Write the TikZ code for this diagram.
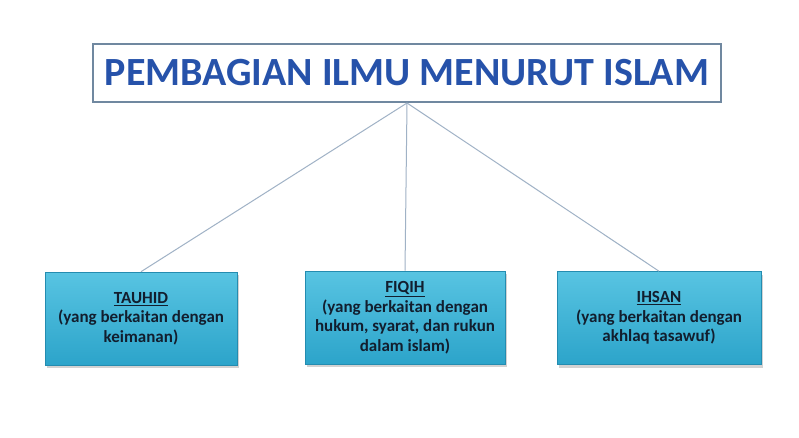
\documentclass[tikz,border=0pt]{standalone}
\usepackage{fontspec}
\setmainfont{Carlito}
\usetikzlibrary{shadows}
\definecolor{birujudul}{RGB}{38,82,170}
\definecolor{garisjudul}{RGB}{112,136,160}
\definecolor{kotakatas}{RGB}{88,196,226}
\definecolor{kotakbawah}{RGB}{44,164,202}
\definecolor{kotaktepi}{RGB}{36,140,176}
\definecolor{teksgelap}{RGB}{18,30,46}
\definecolor{garishub}{RGB}{160,178,198}
\begin{document}
\begin{tikzpicture}[x=1pt,y=-1pt,
  judulbox/.style={draw=garisjudul, line width=2pt, fill=white, minimum width=628pt,
    minimum height=58pt, inner sep=0pt, font=\fontsize{40}{46}\selectfont\bfseries, text=birujudul},
  kotak/.style={draw=kotaktepi, line width=0.6pt, top color=kotakatas, bottom color=kotakbawah,
    minimum height=93pt, inner sep=2pt, align=center, text=teksgelap,
    font=\fontsize{17}{19.5}\selectfont\bfseries,
    drop shadow={shadow xshift=1.5pt, shadow yshift=-3pt, opacity=0.35}},
  hubung/.style={garishub, line width=1pt}]

  % Latar
  \fill[white] (0,0) rectangle (799,438);

  % Judul
  \node[judulbox] (judul) at (407,73) {PEMBAGIAN ILMU MENURUT ISLAM};

  % Kotak cabang
  \node[kotak, minimum width=192pt] (tauhid) at (141,318.5)
    {\underline{TAUHID}\\(yang berkaitan dengan\\keimanan)};
  \node[kotak, minimum width=200pt] (fiqih) at (405,317.5)
    {\underline{FIQIH}\\(yang berkaitan dengan\\hukum, syarat, dan rukun\\dalam islam)};
  \node[kotak, minimum width=204pt] (ihsan) at (659,318)
    {\underline{IHSAN}\\(yang berkaitan dengan\\akhlaq tasawuf)};

  % Garis penghubung
  \foreach \cabang in {tauhid,fiqih,ihsan} {
    \draw[hubung] (judul.south) -- (\cabang.north);
  }
\end{tikzpicture}
\end{document}
